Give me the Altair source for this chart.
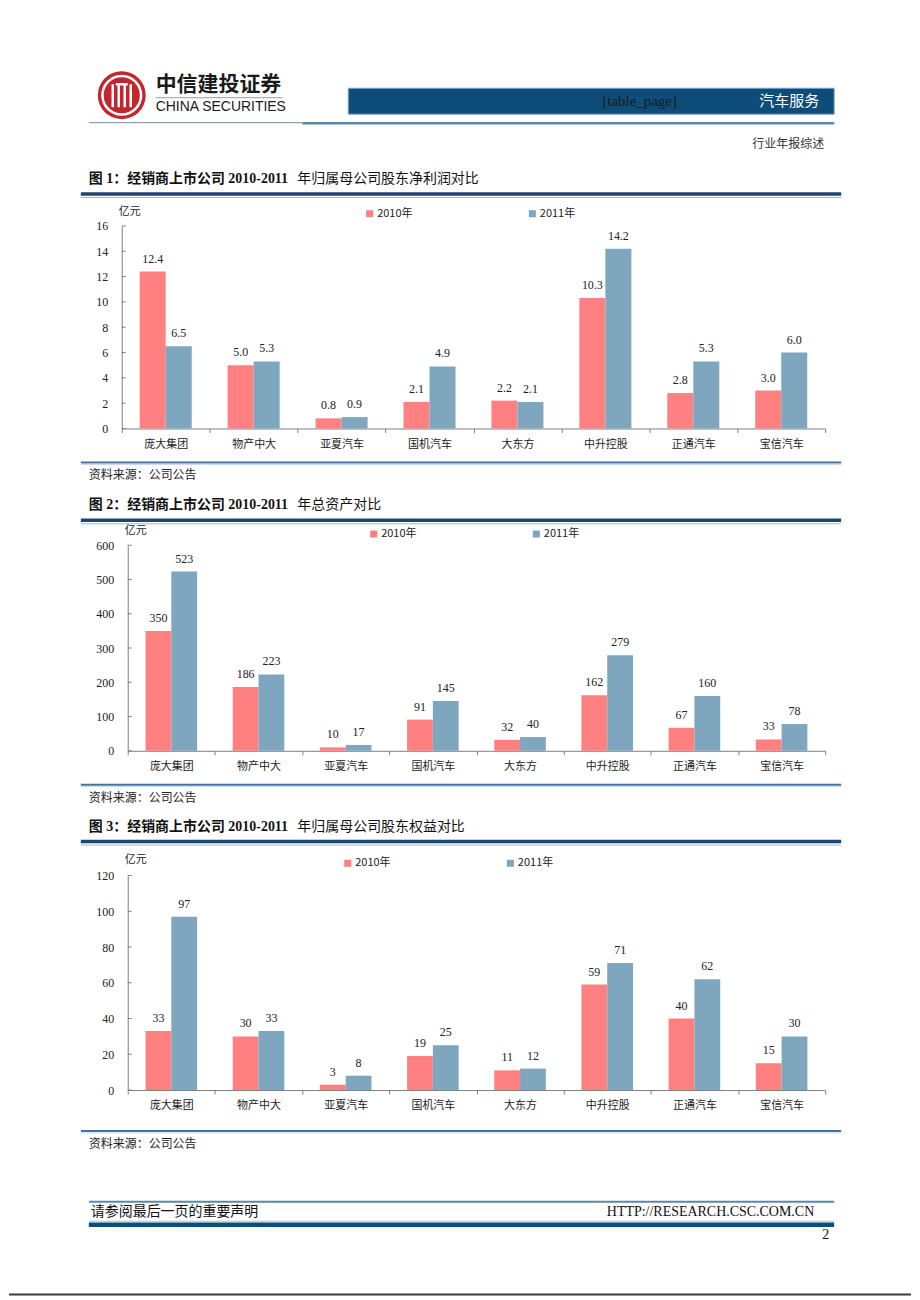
import altair as alt
import pandas as pd

# ---------------- data ----------------
companies = ["庞大集团", "物产中大", "亚夏汽车", "国机汽车", "大东方", "中升控股", "正通汽车", "宝信汽车"]
years = ["2010年", "2011年"]

profit_2010 = [12.4, 5.0, 0.8, 2.1, 2.2, 10.3, 2.8, 3.0]
profit_2011 = [6.5, 5.3, 0.9, 4.9, 2.1, 14.2, 5.3, 6.0]
profit_ticks = [0, 2, 4, 6, 8, 10, 12, 14, 16]

assets_2010 = [350, 186, 10, 91, 32, 162, 67, 33]
assets_2011 = [523, 223, 17, 145, 40, 279, 160, 78]
assets_ticks = [0, 100, 200, 300, 400, 500, 600]

equity_2010 = [33, 30, 3, 19, 11, 59, 40, 15]
equity_2011 = [97, 33, 8, 25, 12, 71, 62, 30]
equity_ticks = [0, 20, 40, 60, 80, 100, 120]

titles_bold = ["图 1：经销商上市公司 2010-2011", "图 2：经销商上市公司 2010-2011", "图 3：经销商上市公司 2010-2011"]
titles_rest = ["年归属母公司股东净利润对比", "年总资产对比", "年归属母公司股东权益对比"]
source_text = "资料来源：公司公告"
unit_text = "亿元"

# ---------------- styles ----------------
W = 904
CJK = "Noto Sans CJK SC"
SERIF = "Liberation Serif, Noto Sans CJK SC"
RED = "#FF8080"
BLUE = "#7FA6BF"
AX = "#7f7f7f"
NAVY = "#0E4C7A"
ONE = pd.DataFrame({"k": [0]})


class Panel:
    def __init__(self, top):
        self.top = top
        self.layers = []

    def text(self, s, x, y, size=12, font=CJK, weight="normal", color="#222", align="left"):
        self.layers.append(
            alt.Chart(ONE).mark_text(text=s, align=align, baseline="middle", font=font,
                                     fontSize=size, fontWeight=weight, color=color)
            .encode(x=alt.value(x - 8), y=alt.value(y - self.top)))

    def hrule(self, x1, x2, y, color, width):
        self.layers.append(
            alt.Chart(ONE).mark_rule(color=color, strokeWidth=width)
            .encode(x=alt.value(x1 - 8), x2=alt.value(x2 - 8), y=alt.value(y - self.top)))

    def vrule(self, x, y1, y2, color, width):
        self.layers.append(
            alt.Chart(ONE).mark_rule(color=color, strokeWidth=width)
            .encode(x=alt.value(x - 8), y=alt.value(y1 - self.top), y2=alt.value(y2 - self.top)))

    def rect(self, x1, x2, y1, y2, color, stroke=None):
        kw = dict(color=color)
        if stroke:
            kw.update(stroke=stroke, strokeWidth=1)
        self.layers.append(
            alt.Chart(ONE).mark_rect(**kw)
            .encode(x=alt.value(x1 - 8), x2=alt.value(x2 - 8),
                    y=alt.value(y1 - self.top), y2=alt.value(y2 - self.top)))

    def dot(self, x, y, size, color, filled=True, sw=0):
        kw = dict(shape="circle", size=size, opacity=1)
        if filled:
            kw.update(filled=True, fill=color, strokeWidth=0)
        else:
            kw.update(filled=False, stroke=color, strokeWidth=sw)
        self.layers.append(
            alt.Chart(ONE).mark_point(**kw)
            .encode(x=alt.value(x - 8), y=alt.value(y - self.top)))

    def title(self, i, y):
        self.text(titles_bold[i], 88, y, size=14, font=SERIF, weight="bold", color="#111")
        self.text(titles_rest[i], 297, y, size=14, font=CJK, color="#111")
        self.hrule(80, 842, y + 15, "#1A4670", 3.5)
        self.hrule(80, 842, y + 18.5, "#9DB9D3", 1)

    def source(self, y):
        self.hrule(80, 842, y, "#46739B", 2)
        self.hrule(80, 842, y + 2, "#C6D9EA", 1)
        self.text(source_text, 88, y + 13, size=12)

    def build(self, height):
        return alt.layer(*self.layers).properties(width=W, height=height)


def bar_panel(top, height, v2010, v2011, ticks, ymax, fmt, x0, x1, unit_xy, legend_xy):
    df = pd.DataFrame({
        "company": companies * 2,
        "year": [years[0]] * len(companies) + [years[1]] * len(companies),
        "value": v2010 + v2011,
    })
    xenc = alt.X("company:N", sort=companies,
                 scale=alt.Scale(range=[x0 - 8, x1 - 8], paddingInner=0, paddingOuter=0),
                 axis=alt.Axis(title=None, labelAngle=0, tickBand="extent", tickSize=4,
                               tickColor=AX, domainColor=AX, labelFont=CJK, labelFontSize=11,
                               labelColor="#222", labelPadding=6))
    xoff = alt.XOffset("year:N", sort=years, scale=alt.Scale(paddingOuter=0.69, paddingInner=0))
    yaxis = alt.Axis(title=None, values=ticks, offset=-(x0 - 8), ticks=False,
                     grid=False, domainColor=AX, labelFont=SERIF, labelFontSize=12,
                     labelColor="#222", labelPadding=14)
    yscale = alt.Scale(domain=[0, ymax], nice=False)
    yenc = alt.Y("value:Q", scale=yscale, axis=yaxis)
    color = alt.Color("year:N", sort=years, scale=alt.Scale(domain=years, range=[RED, BLUE]),
                      legend=alt.Legend(orient="none", legendX=legend_xy[0] - 8,
                                        legendY=legend_xy[1] - top, direction="horizontal",
                                        title=None, symbolType="square", symbolSize=50,
                                        symbolStrokeWidth=0, labelFont=CJK, labelFontSize=11,
                                        labelColor="#222", columnPadding=114, padding=0,
                                        labelOffset=2))
    bars = alt.Chart(df).mark_bar().encode(x=xenc, xOffset=xoff, y=yenc, color=color)
    labels = alt.Chart(df).mark_text(baseline="bottom", dy=-6, font=SERIF, fontSize=12,
                                     color="#222").encode(
        x=xenc, xOffset=xoff, y=yenc, text=alt.Text("value:Q", format=fmt))
    tick_df = pd.DataFrame({"value": ticks})
    tick_marks = alt.Chart(tick_df).mark_rule(color=AX, strokeWidth=1).encode(
        y=alt.Y("value:Q", scale=yscale, axis=yaxis), x=alt.value(x0 - 8), x2=alt.value(x0 - 8 + 4))
    p = Panel(top)
    p.layers = [bars, labels, tick_marks]
    p.text(unit_text, unit_xy[0], unit_xy[1], size=11)
    return p.build(height)


# ---------------- header panel ----------------
p0 = Panel(8)
# logo
p0.dot(121, 94, 2304, "#C4262E")
p0.dot(121, 94, 1500, "#ffffff", filled=False, sw=2.5)
for dx in (-9, -3, 3, 9):
    p0.vrule(121 + dx, 83, 106, "#ffffff", 2.5)
p0.hrule(115, 127, 83, "#ffffff", 2.5)
p0.text("中信建投证券", 155, 84, size=21, font=CJK, weight="bold", color="#1b1b1b")
p0.hrule(155, 282, 96.5, "#9a9a9a", 1)
p0.text("CHINA SECURITIES", 155, 106, size=14, font="Liberation Sans Narrow, Liberation Sans",
        color="#1b1b1b")
# header bar
p0.rect(348, 835, 87, 113, NAVY, stroke="#7FA7C9")
p0.text("[table_page]", 640, 100, size=15, font="Liberation Serif", color="#1a1a1a", align="center")
p0.text("汽车服务", 790, 100, size=15, font=CJK, color="#ffffff", align="center")
p0.hrule(88, 302, 121.5, "#6E8FAD", 1)
p0.hrule(302, 835, 122, "#5A87AC", 2.5)
p0.text("行业年报综述", 825, 143, size=12, color="#333", align="right")
p0.title(0, 178)
panel0 = p0.build(225 - 8)

chart1 = bar_panel(225, 428 - 225, profit_2010, profit_2011, profit_ticks, 16, ".1f",
                   121, 826, (118, 211), (364, 207))

p2 = Panel(428)
p2.source(462)
p2.title(1, 505)
panel2 = p2.build(545 - 428)

chart2 = bar_panel(545, 751 - 545, assets_2010, assets_2011, assets_ticks, 600, "d",
                   127, 826, (124, 531), (368, 528))

p4 = Panel(751)
p4.source(785)
p4.title(2, 827)
panel4 = p4.build(876 - 751)

chart3 = bar_panel(876, 1091 - 876, equity_2010, equity_2011, equity_ticks, 120, "d",
                   127, 826, (124, 860), (342, 858))

p6 = Panel(1091)
p6.source(1132)
p6.hrule(88, 835, 1203, "#5A87AC", 2)
p6.text("请参阅最后一页的重要声明", 90, 1213.5, size=14, color="#111")
p6.text("HTTP://RESEARCH.CSC.COM.CN", 815, 1213.5, size=14, font="Liberation Serif",
        color="#111", align="right")
p6.hrule(88, 835, 1222.5, "#A9C4DC", 1)
p6.hrule(88, 835, 1226, NAVY, 4.5)
p6.text("2", 830, 1236, size=14, font="Liberation Serif", color="#111", align="right")
p6.hrule(8, 912, 1296, "#3a3a3a", 2)
panel6 = p6.build(1298 - 1091)

chart = alt.vconcat(panel0, chart1, panel2, chart2, panel4, chart3, panel6,
                    spacing=0, bounds="flush").resolve_scale(
    x="independent", y="independent", color="independent", xOffset="independent"
).resolve_legend(color="independent").properties(padding=0).configure_view(stroke=None)

chart.save("out.html", embed_options={"renderer": "svg", "actions": False})
